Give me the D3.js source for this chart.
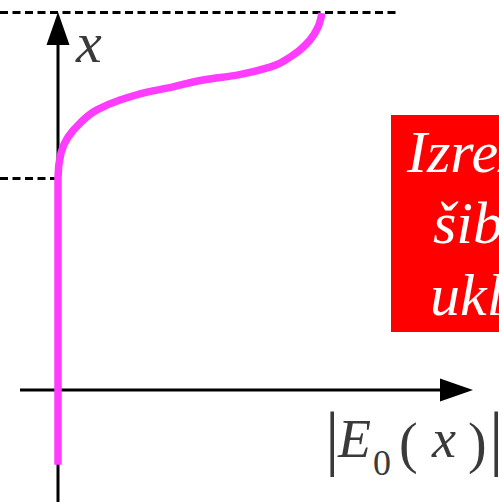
<!DOCTYPE html>
<html>
<head>
<meta charset="utf-8">
<script src="https://cdn.jsdelivr.net/npm/d3@7/dist/d3.min.js"></script>
<style>
  html, body { margin: 0; padding: 0; background: #fff; overflow: hidden; }
  svg { display: block; }
</style>
</head>
<body>
<script>
// Field magnitude profile |E0(x)| across the structure (E in %, x in %).
const fieldE = [0, 0, 0, 0.75, 2.5, 5.5, 9.75, 15.5, 22.25, 28.75, 36.25, 44.75, 53, 58.75, 63, 65, 66];
const fieldX = [-19.8, 23.8, 56.1, 62.7, 66.9, 70.6, 74.1, 76.7, 78.8, 80.2, 82.0, 83.3, 85.4, 88.6, 92.6, 96.0, 99.7];

// Reference levels marked with dashed guides
const guideLevels = [100, 56.1];
const guideEnds = [85, 0];          // E at which each guide stops

const noteLines = ["Izrezano", "šibko", "ukleščeno"];

const W = 499, H = 502;
const svg = d3.select("body").append("svg").attr("width", W).attr("height", H);

const xs = d3.scaleLinear().domain([0, 100]).range([58, 458]);
const ys = d3.scaleLinear().domain([0, 100]).range([390, 12]);

const ink = "#000";

// Dashed guides
svg.selectAll("line.guide").data(guideLevels).enter().append("line")
  .attr("x1", 0).attr("x2", (d, i) => xs(guideEnds[i]))
  .attr("y1", d => ys(d) + 0.5).attr("y2", d => ys(d) + 0.5)
  .attr("stroke", ink).attr("stroke-width", 3)
  .attr("stroke-dasharray", "8,4.5");

// Vertical axis (x) with arrow
svg.append("line")
  .attr("x1", xs(0)).attr("x2", xs(0))
  .attr("y1", H).attr("y2", ys(100) + 30)
  .attr("stroke", ink).attr("stroke-width", 3);
svg.append("path")
  .attr("d", `M${xs(0)},${ys(100)} L${xs(0) - 11.5},${ys(100) + 33} L${xs(0) + 11.5},${ys(100) + 33} Z`)
  .attr("fill", ink);

// Horizontal axis (|E0|) with arrow
svg.append("line")
  .attr("x1", 20).attr("x2", xs(96))
  .attr("y1", ys(0)).attr("y2", ys(0))
  .attr("stroke", ink).attr("stroke-width", 3);
svg.append("path")
  .attr("d", `M${xs(103.75)},${ys(0)} L${xs(95.5)},${ys(0) - 11.5} L${xs(95.5)},${ys(0) + 11.5} Z`)
  .attr("fill", ink);

// Field profile curve (drawn top to bottom so it is monotone in y)
const pts = fieldE.map((e, i) => [xs(e), ys(fieldX[i])]).reverse();
svg.append("path")
  .attr("d", d3.line().curve(d3.curveMonotoneY)(pts))
  .attr("fill", "none")
  .attr("stroke", "#ff3cff")
  .attr("stroke-width", 7.5);

// Axis labels
const serif = "Liberation Serif, Times New Roman, serif";
const labelColor = "#3a3a3a";
svg.append("text")
  .attr("x", 76).attr("y", 62)
  .style("font-family", serif).style("font-style", "italic").style("font-size", "58px")
  .attr("fill", labelColor).text("x");

const lab = svg.append("g").style("font-family", serif).attr("fill", labelColor);
lab.append("text").attr("x", 325).attr("y", 462).style("font-size", "72px").text("|");
lab.append("text").attr("x", 338).attr("y", 457).style("font-size", "54px").style("font-style", "italic").text("E");
lab.append("text").attr("x", 373).attr("y", 475).style("font-size", "36px").text("0");
lab.append("text").attr("x", 399).attr("y", 462).style("font-size", "56px").text("(");
lab.append("text").attr("x", 432).attr("y", 457).style("font-size", "54px").style("font-style", "italic").text("x");
lab.append("text").attr("x", 468).attr("y", 462).style("font-size", "56px").text(")");
lab.append("text").attr("x", 489).attr("y", 462).style("font-size", "72px").text("|");

// Note box
svg.append("rect")
  .attr("x", 391).attr("y", 115).attr("width", 200).attr("height", 217)
  .attr("fill", "#ff0000");
const noteX = [407, 433, 430];
const noteY = [172, 243, 315];
svg.selectAll("text.note").data(noteLines).enter().append("text")
  .attr("class", "note")
  .attr("x", (d, i) => noteX[i]).attr("y", (d, i) => noteY[i])
  .style("font-family", serif).style("font-style", "italic").style("font-size", "60px")
  .attr("fill", "#fff").text(d => d);
</script>
</body>
</html>
